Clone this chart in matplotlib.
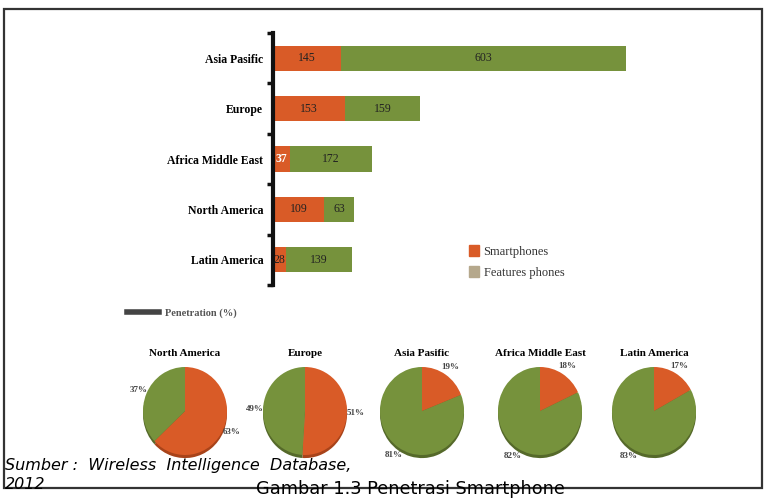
import matplotlib
matplotlib.use("Agg")
import matplotlib.pyplot as plt
from matplotlib.patches import Rectangle, Patch
from matplotlib.lines import Line2D

W, H = 770, 498

# stacked bars (millions of handsets)
regions = ["Asia Pasific", "Europe", "Africa Middle East", "North America", "Latin America"]
smartphones = [145, 153, 37, 109, 28]
feature_phones = [603, 159, 172, 63, 139]

# penetration pies (%)
pie_regions = ["North America", "Europe", "Asia Pasific", "Africa Middle East", "Latin America"]
pie_smart = [63, 51, 19, 18, 17]
pie_feature = [37, 49, 81, 82, 83]

orange = "#D95B27"
green = "#76923C"
tan = "#B5A88C"
orange_dark = "#A8431A"
green_dark = "#55692A"
serif = "Liberation Serif"


def px_axes(fig, x0, y0, x1, y1):
    # axes from pixel box (top-left origin)
    return fig.add_axes([x0 / W, 1 - y1 / H, (x1 - x0) / W, (y1 - y0) / H])


fig = plt.figure(figsize=(W / 100, H / 100), dpi=100)

# ---- bar chart
ax = px_axes(fig, 273, 33, 626, 285)
ypos = list(range(len(regions)))
totals = [s + f for s, f in zip(smartphones, feature_phones)]
ax.barh(ypos, smartphones, height=0.5, color=orange, clip_on=False)
ax.barh(ypos, feature_phones, left=smartphones, height=0.5, color=green, clip_on=False)
ax.set_xlim(0, max(totals))
ax.set_ylim(len(regions) - 0.5, -0.5)

for sp in ["top", "right", "bottom"]:
    ax.spines[sp].set_visible(False)
ax.spines["left"].set_linewidth(3)
ax.spines["left"].set_color("#111111")
ax.set_xticks([])
ax.set_yticks(ypos)
ax.set_yticklabels(regions, fontfamily=serif, fontweight="bold", fontsize=8.5)
ax.tick_params(axis="y", which="major", length=0, pad=7)
ax.set_yticks([i - 0.5 for i in range(len(regions) + 1)], minor=True)
ax.tick_params(axis="y", which="minor", length=4, width=2.5, color="#111111", direction="out")

white_label = [False, False, True, False, False]
for i in ypos:
    s, f = smartphones[i], feature_phones[i]
    if white_label[i]:
        ax.text(s / 2, i, str(s), ha="center", va="center", color="white",
                fontfamily=serif, fontweight="bold", fontsize=8.5)
    else:
        ax.text(s / 2, i, str(s), ha="center", va="center", color="#222222",
                fontfamily=serif, fontsize=8.5)
    ax.text(s + f / 2, i, str(f), ha="center", va="center", color="#222222",
            fontfamily=serif, fontsize=8.5)

handles = [Patch(color=orange, label="Smartphones"), Patch(color=tan, label="Features phones")]
fig.legend(handles=handles, loc="upper left", bbox_to_anchor=(458 / W, 1 - 234 / H),
           frameon=False, handlelength=0.75, handleheight=1.0, handletextpad=0.4,
           labelspacing=0.65, prop={"family": serif, "size": 9}, labelcolor="#333333")

pen = [Line2D([], [], color="#444444", lw=4, label="Penetration (%)")]
fig.legend(handles=pen, loc="upper left", bbox_to_anchor=(118 / W, 1 - 299 / H),
           frameon=False, handlelength=3.0, handletextpad=0.6,
           prop={"family": serif, "size": 7.5, "weight": "bold"}, labelcolor="#555555")

# ---- pies
centers = [185, 305, 422, 540, 654]
cy, rx, ry, k = 411, 42, 44, 1.3
for i, name in enumerate(pie_regions):
    cx = centers[i]
    pa = px_axes(fig, cx - rx * k, cy - ry * k, cx + rx * k, cy + ry * k)
    vals = [pie_smart[i], pie_feature[i]]
    # shadow
    pa.pie(vals, colors=[orange_dark, green_dark], startangle=90, counterclock=False,
           center=(0, -0.07), radius=1)
    pa.pie(vals, colors=[orange, green], startangle=90, counterclock=False,
           radius=1, autopct="%1.0f%%", pctdistance=1.2,
           textprops={"family": serif, "size": 6.5, "weight": "bold", "color": "#444444"})
    pa.set_aspect("auto")
    pa.set_xlim(-k, k)
    pa.set_ylim(-k, k)
    fig.text(cx / W, 1 - 354 / H, name, ha="center", va="center",
             fontfamily=serif, fontweight="bold", fontsize=8)

# ---- captions and frame
fig.text(5 / W, 1 - 470 / H, "Sumber :  Wireless  Intelligence  Database,",
         fontstyle="italic", fontsize=11.5, ha="left", va="baseline")
fig.text(5 / W, 1 - 489 / H, "2012", fontstyle="italic", fontsize=11.5,
         ha="left", va="baseline")
fig.text(410 / W, 1 - 494 / H, "Gambar 1.3 Penetrasi Smartphone", fontsize=12.8,
         ha="center", va="baseline")
fig.add_artist(Rectangle((4 / W, 1 - 488 / H), 758 / W, 478.5 / H, transform=fig.transFigure,
                         fill=False, lw=1.6, ec="#333333"))

fig.savefig("out.png", dpi=100)
